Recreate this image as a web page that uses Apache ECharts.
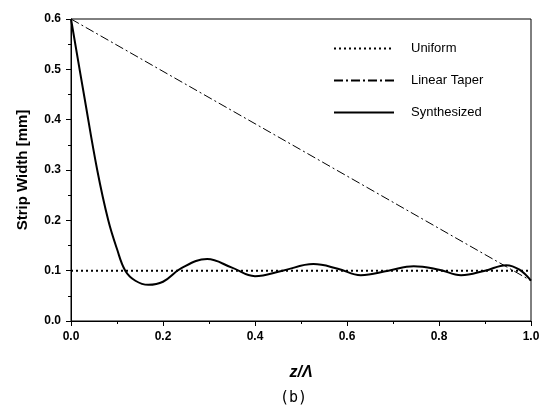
<!DOCTYPE html>
<html lang="en">
<head>
    <meta charset="UTF-8">
    <title>Strip Width</title>
    <script src="https://cdn.jsdelivr.net/npm/echarts@6/dist/echarts.min.js"></script>
</head>
<body style="margin:0;background:#fff;">
    <div id="main" style="width:554px;height:409px;"></div>
    <script>
        const seriesNames = ['Uniform', 'Linear Taper', 'Synthesized'];
        const uniformX = [0, 1];
        const uniformY = [0.1, 0.1];
        const taperX = [0, 1];
        const taperY = [0.6, 0.08];
        const synthX = [0, 0.03, 0.057, 0.081, 0.1, 0.118, 0.14, 0.168, 0.2, 0.24, 0.296, 0.35, 0.40, 0.46, 0.527, 0.58, 0.63, 0.69, 0.745, 0.8, 0.848, 0.9, 0.946, 0.975, 1.0];
        const synthY = [0.6, 0.44, 0.3, 0.2, 0.143, 0.1, 0.08, 0.072, 0.078, 0.105, 0.123, 0.106, 0.089, 0.1, 0.113, 0.104, 0.091, 0.1, 0.109, 0.102, 0.091, 0.1, 0.111, 0.102, 0.08];

        const pairs = (xs, ys) => xs.map((x, i) => [x, ys[i]]);

        var myChart = echarts.init(document.getElementById('main'));
        var font = 'Liberation Sans, Arial, sans-serif';
        var option = {
            animation: false,
            color: ['#000', '#000', '#000'],
            grid: {
                left: 71, right: 23, top: 19, bottom: 88,
                show: true, borderColor: '#000', borderWidth: 1
            },
            legend: {
                orient: 'vertical',
                left: 328,
                top: 37,
                itemWidth: 60,
                itemHeight: 14,
                itemGap: 19,
                data: seriesNames,
                itemStyle: { opacity: 0 },
                textStyle: { fontFamily: font, fontSize: 13, color: '#000', padding: [0, 0, 0, 12] }
            },
            xAxis: {
                type: 'value',
                min: 0, max: 1, interval: 0.2,
                name: 'z/Λ',
                nameLocation: 'middle',
                nameGap: 44,
                nameTextStyle: { fontFamily: font, fontSize: 16, fontWeight: 'bold', fontStyle: 'italic', color: '#000' },
                axisLine: { lineStyle: { color: '#000' } },
                axisTick: { length: 5, lineStyle: { color: '#000' } },
                minorTick: { show: true, splitNumber: 2, length: 3, lineStyle: { color: '#000' } },
                splitLine: { show: false },
                axisLabel: { fontFamily: font, fontSize: 12, fontWeight: 'bold', color: '#000', margin: 10, formatter: v => v.toFixed(1) }
            },
            yAxis: {
                type: 'value',
                min: 0, max: 0.6, interval: 0.1,
                name: 'Strip Width [mm]',
                nameLocation: 'middle',
                nameGap: 41,
                nameTextStyle: { fontFamily: font, fontSize: 15, fontWeight: 'bold', color: '#000' },
                axisLine: { show: true, lineStyle: { color: '#000' } },
                axisTick: { show: true, length: 5, lineStyle: { color: '#000' } },
                minorTick: { show: true, splitNumber: 2, length: 3, lineStyle: { color: '#000' } },
                splitLine: { show: false },
                axisLabel: { fontFamily: font, fontSize: 12, fontWeight: 'bold', color: '#000', margin: 10, formatter: v => v.toFixed(1) }
            },
            graphic: [{
                type: 'text',
                left: 280,
                top: 391,
                style: { text: '(b)', font: '15px DejaVu Sans Mono, monospace', fill: '#000' }
            }],
            series: [
                {
                    name: seriesNames[0], type: 'line', data: pairs(uniformX, uniformY),
                    showSymbol: false, symbol: 'none',
                    lineStyle: { color: '#000', width: 2, type: [2, 3] }
                },
                {
                    name: seriesNames[1], type: 'line', data: pairs(taperX, taperY),
                    showSymbol: false, symbol: 'none',
                    lineStyle: { color: '#000', width: 1, type: [9, 3, 2, 3] }
                },
                {
                    name: seriesNames[2], type: 'line', data: pairs(synthX, synthY),
                    showSymbol: false, symbol: 'none', smooth: 0.4,
                    lineStyle: { color: '#000', width: 2 }
                }
            ]
        };
        option && myChart.setOption(option);
    </script>
</body>
</html>
